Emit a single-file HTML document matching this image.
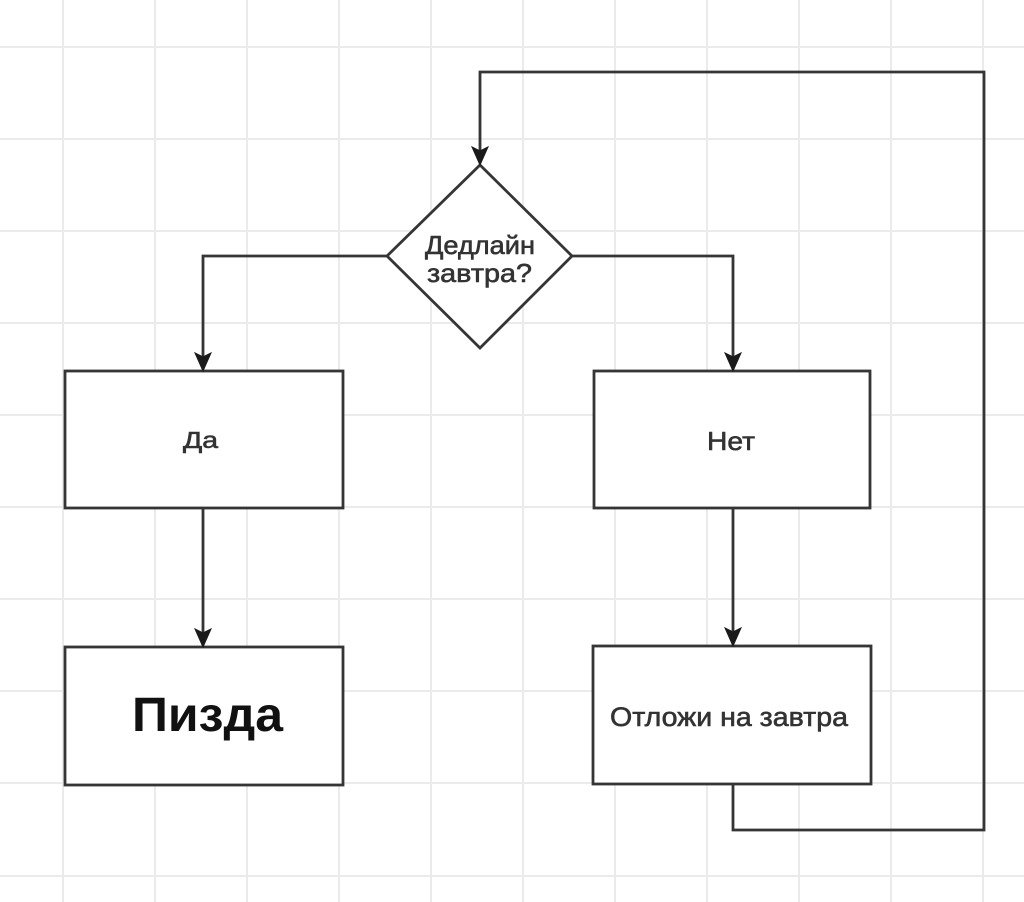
<!DOCTYPE html>
<html>
<head>
<meta charset="utf-8">
<style>
  html, body { margin: 0; padding: 0; background: #ffffff; }
  svg { display: block; }
  text { font-family: "Liberation Sans", "DejaVu Sans", sans-serif; }
</style>
</head>
<body>
<svg width="1024" height="902" viewBox="0 0 1024 902" xmlns="http://www.w3.org/2000/svg">
  <rect x="0" y="0" width="1024" height="902" fill="#ffffff"/>
  <!-- grid -->
  <g stroke="#ebebeb" stroke-width="2">
    <line x1="63" y1="0" x2="63" y2="902"/>
    <line x1="155" y1="0" x2="155" y2="902"/>
    <line x1="247" y1="0" x2="247" y2="902"/>
    <line x1="339" y1="0" x2="339" y2="902"/>
    <line x1="431" y1="0" x2="431" y2="902"/>
    <line x1="523" y1="0" x2="523" y2="902"/>
    <line x1="615" y1="0" x2="615" y2="902"/>
    <line x1="707" y1="0" x2="707" y2="902"/>
    <line x1="799" y1="0" x2="799" y2="902"/>
    <line x1="891" y1="0" x2="891" y2="902"/>
    <line x1="983" y1="0" x2="983" y2="902"/>
    <line x1="0" y1="47" x2="1024" y2="47"/>
    <line x1="0" y1="139" x2="1024" y2="139"/>
    <line x1="0" y1="231" x2="1024" y2="231"/>
    <line x1="0" y1="323" x2="1024" y2="323"/>
    <line x1="0" y1="415" x2="1024" y2="415"/>
    <line x1="0" y1="507" x2="1024" y2="507"/>
    <line x1="0" y1="599" x2="1024" y2="599"/>
    <line x1="0" y1="691" x2="1024" y2="691"/>
    <line x1="0" y1="783" x2="1024" y2="783"/>
    <line x1="0" y1="876" x2="1024" y2="876"/>
  </g>

  <!-- connectors -->
  <g fill="none" stroke="#353535" stroke-width="2.8" stroke-linejoin="miter">
    <path d="M733,785 V830 H984 V72 H480 V152"/>
    <path d="M387,256 H203 V358"/>
    <path d="M572,256 H733 V358"/>
    <path d="M203,508 V634"/>
    <path d="M733,508 V633"/>
  </g>

  <!-- boxes -->
  <g fill="#ffffff" stroke="#353535" stroke-width="2.8">
    <rect x="65" y="371" width="278" height="137"/>
    <rect x="594" y="371" width="276" height="137"/>
    <rect x="65" y="647" width="278" height="138"/>
    <rect x="593" y="646" width="278" height="138"/>
    <polygon points="480,165 572,256 480,348 387,256"/>
  </g>

  <!-- arrowheads -->
  <g fill="#1a1a1a" stroke="#1a1a1a" stroke-width="1">
    <path d="M480,165 L472,147 L480,151 L488,147 Z"/>
    <path d="M203,371 L195,353 L203,357 L211,353 Z"/>
    <path d="M733,371 L725,353 L733,357 L741,353 Z"/>
    <path d="M203,647 L195,629 L203,633 L211,629 Z"/>
    <path d="M733,646 L725,628 L733,632 L741,628 Z"/>
  </g>

  <!-- labels -->
  <g fill="#333333" stroke="#333333" stroke-width="0.6" text-anchor="middle">
    <text x="480" y="254" font-size="26" textLength="110" lengthAdjust="spacingAndGlyphs">Дедлайн</text>
    <text x="479.5" y="282" font-size="26" textLength="105" lengthAdjust="spacingAndGlyphs">завтра?</text>
    <text x="200.5" y="448" font-size="23" textLength="35" lengthAdjust="spacingAndGlyphs">Да</text>
    <text x="731" y="450" font-size="26" textLength="48" lengthAdjust="spacingAndGlyphs">Нет</text>
    <text x="729" y="726" font-size="27" textLength="238" lengthAdjust="spacingAndGlyphs">Отложи на завтра</text>
  </g>
  <text x="207.5" y="731" font-size="48" font-weight="bold" fill="#111111" text-anchor="middle" textLength="151" lengthAdjust="spacingAndGlyphs">Пизда</text>
</svg>
</body>
</html>
